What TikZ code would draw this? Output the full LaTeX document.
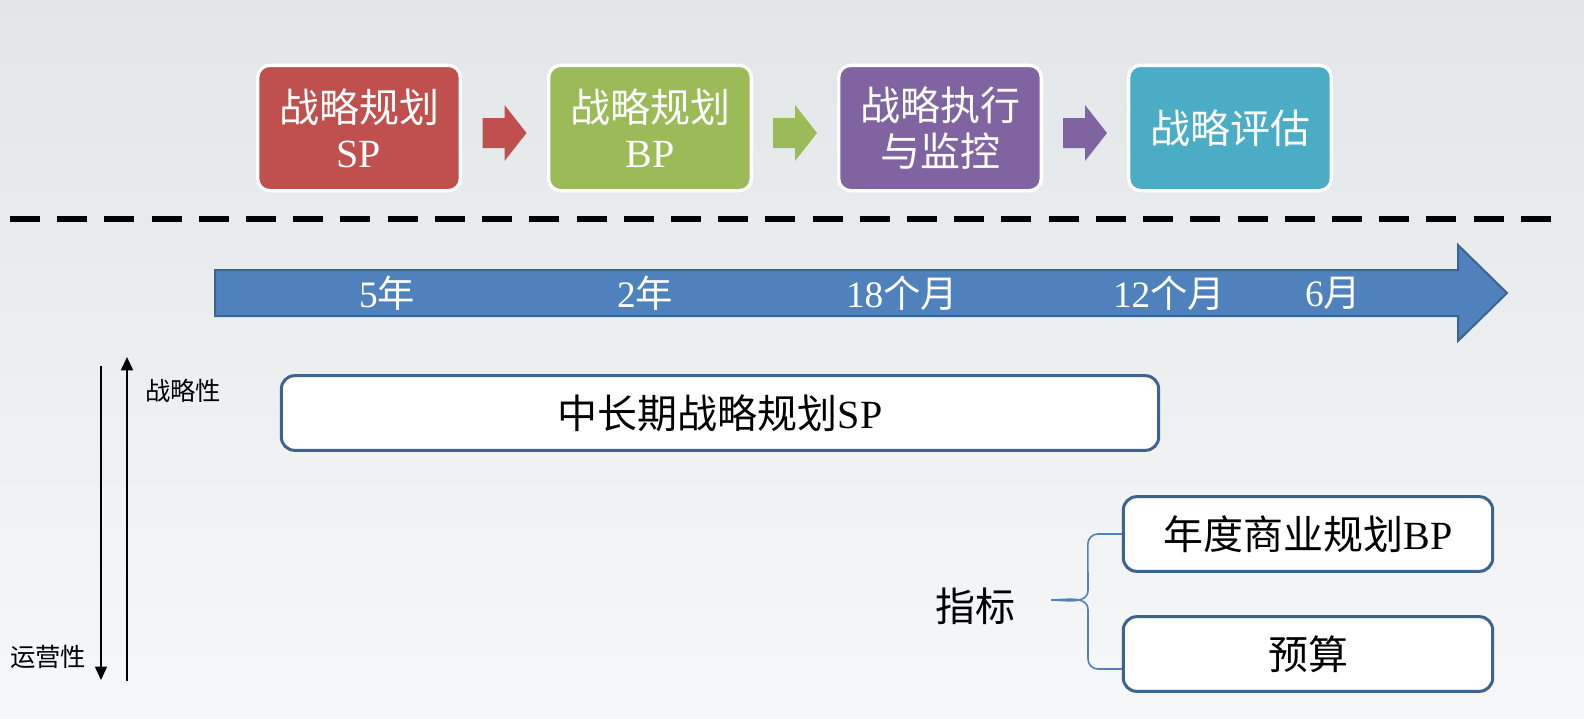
\documentclass[tikz,border=0pt]{standalone}
\usepackage{fontspec}
\setmainfont{Liberation Serif}
\newfontfamily\cjk{Noto Sans CJK SC}
\usetikzlibrary{arrows.meta,calc}

\definecolor{spRed}{HTML}{C0504D}
\definecolor{bpGreen}{HTML}{9BBB59}
\definecolor{exPurple}{HTML}{8064A2}
\definecolor{evTeal}{HTML}{4BACC6}
\definecolor{lineBlue}{HTML}{4F81BD}
\definecolor{edgeBlue}{HTML}{3D6390}
\definecolor{bgTop}{RGB}{226,230,232}
\definecolor{bgBot}{RGB}{246,247,248}

\tikzset{
	stage/.style = {draw = white, line width = 2.5pt, rounded corners = 9pt, minimum width = 152pt, minimum height = 94pt, align = center, text = white, font = \cjk\fontsize{30}{34}\selectfont},
	planbox/.style = {draw = edgeBlue, fill = white, line width = 2.25pt, rounded corners = 10pt, minimum height = 56pt, font = \cjk\fontsize{30}{34}\selectfont},
	timelabel/.style = {text = white, font = \cjk\fontsize{28}{32}\selectfont},
	axis/.style = {-{Triangle[length = 10pt, width = 9pt]}, line width = 1.2pt},
	brace/.style = {lineBlue, line width = 1.2pt},
}

\begin{document}
\begin{tikzpicture}[x = 0.75pt, y = -0.75pt]
	
		\shade[top color = bgTop, bottom color = bgBot] (0, 0) rectangle (1584, 718);
		\useasboundingbox (0, 0) rectangle (1584, 718);
		
		% stages
		\node[stage, fill = spRed] (sp) at (359, 128) {战略规划\\{\rmfamily SP}};
		\node[stage, fill = bpGreen] (bp) at (650, 128) {战略规划\\{\rmfamily BP}};
		\node[stage, fill = exPurple] (ex) at (940, 128) {战略执行\\与监控};
		\node[stage, fill = evTeal] (ev) at (1230, 128) {战略评估};
		
		\foreach \a/\b/\c in {sp/bp/spRed, bp/ex/bpGreen, ex/ev/exPurple}
			\fill[\c] ($(\a.east)!0.5!(\b.west)$) ++(-22, -10) -- ++(22, 0) -- ++(0, -13) -- ++(22, 28) -- ++(-22, 28) -- ++(0, -13) -- ++(-22, 0) -- cycle;
		
		\draw[line width = 4.5pt, dash pattern = on 22.5pt off 12.91pt] (10, 219) -- (1551, 219);
		
		% time line
		\draw[fill = lineBlue, draw = edgeBlue, line width = 1.5pt] (215, 270) -- (1458, 270) -- (1458, 245) -- (1507, 293) -- (1458, 341) -- (1458, 316) -- (215, 316) -- cycle;
		\node[timelabel] (t1) at (387, 293) {{\rmfamily 5}年};
		\node[timelabel] (t2) at (645, 293) {{\rmfamily 2}年};
		\node[timelabel] (t3) at (902, 293) {{\rmfamily 18}个月};
		\node[timelabel] (t4) at (1169, 293) {{\rmfamily 12}个月};
		\node[timelabel] (t5) at (1333, 293) {{\rmfamily 6}月};
		
		% plans
		\node[planbox, minimum width = 658pt] (lsp) at (720, 413) {中长期战略规划{\rmfamily SP}};
		\node[planbox, minimum width = 277pt] (abp) at (1308, 534) {年度商业规划{\rmfamily BP}};
		\node[planbox, minimum width = 277pt] (ys) at (1308, 654) {预算};
		\node[font = \cjk\fontsize{30}{34}\selectfont] (kpi) at (975, 606) {指标};
		
		\coordinate (bTop) at (abp.west);
		\coordinate (bBot) at ($(ys.west) + (0, 15)$);
		\coordinate (bTip) at (1051, 600);
		\draw[brace] (bTop) -- ++(-24, 0) to[out = 180, in = 90] ++(-10, 10) -- (1088, 590) to[out = -90, in = 0] (bTip) to[out = 0, in = 90] (1088, 610) -- (1088, 659) to[out = -90, in = 180] ($(bBot) + (-24, 0)$) -- (bBot);
		
		% axis
		\coordinate (opTop) at (101, 366);
		\coordinate (opEnd) at (101, 680);
		\coordinate (stBot) at (127, 681);
		\coordinate (stEnd) at (127, 357);
		\draw[axis] (opTop) -- (opEnd);
		\draw[axis] (stBot) -- (stEnd);
		\node[font = \cjk\fontsize{19}{22}\selectfont] (stLbl) at (183, 391) {战略性};
		\node[font = \cjk\fontsize{19}{22}\selectfont] (opLbl) at (48, 657) {运营性};
		
	\end{tikzpicture}
\end{document}
